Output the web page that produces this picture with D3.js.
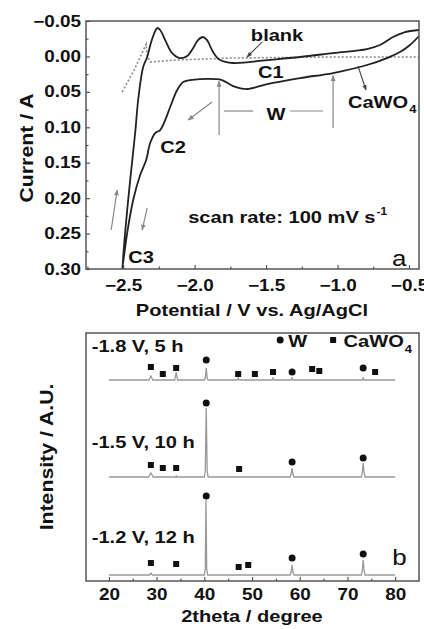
<!DOCTYPE html>
<html lang="en">
<head>
<meta charset="UTF-8" />
<script src="https://d3js.org/d3.v7.min.js"></script>
<style>
  body { margin: 0; background: #fff; }
  svg text { font-family: "Liberation Sans", Arial, sans-serif; fill: #111; }
  .axis path { display: none; }
  .axis line { stroke: #555; stroke-width: 1.2; }
  .axis text { font-weight: bold; font-size: 16px; }
  .frame { fill: none; stroke: #555; stroke-width: 1.5; }
</style>
</head>
<body>
<svg id="chart" width="424" height="629"></svg>
<script>
// ---- panel a: CV of CaWO4 (potential / V, current / A) ----
const cvLoop = [
  [-0.430, -0.0288], [-0.493, -0.0161], [-0.563, -0.0062], [-0.654, 0.0023], [-0.794, 0.0121],
  [-1.031, 0.0234], [-1.262, 0.0305], [-1.493, 0.0390], [-1.633, 0.0460], [-1.731, 0.0418],
  [-1.808, 0.0333], [-1.857, 0.0319], [-1.962, 0.0319], [-2.031, 0.0333], [-2.080, 0.0361],
  [-2.122, 0.0474], [-2.171, 0.0714], [-2.206, 0.0898], [-2.241, 0.1039], [-2.276, 0.1081],
  [-2.311, 0.1222], [-2.339, 0.1462], [-2.381, 0.1674], [-2.430, 0.2027], [-2.472, 0.2493],
  [-2.507, 0.2999],
  [-2.465, 0.2027], [-2.416, 0.1081], [-2.395, 0.0615], [-2.360, 0.0150], [-2.332, 0.0008],
  [-2.304, -0.0203], [-2.276, -0.0358], [-2.262, -0.0401], [-2.241, -0.0373], [-2.206, -0.0231],
  [-2.157, -0.0048], [-2.101, 0.0023], [-2.052, -0.0006], [-2.010, -0.0119], [-1.976, -0.0231],
  [-1.941, -0.0274], [-1.913, -0.0231], [-1.871, -0.0062], [-1.822, 0.0051], [-1.731, 0.0093],
  [-1.493, 0.0051], [-1.262, 0.0008], [-1.031, -0.0048], [-0.794, -0.0104], [-0.703, -0.0161],
  [-0.612, -0.0274], [-0.528, -0.0344], [-0.430, -0.0373]
];
const blankLoop = [
  [-2.507, 0.0502], [-2.423, 0.0192], [-2.339, -0.0175], [-2.332, -0.0020], [-2.311, 0.0079],
  [-2.136, 0.0051], [-1.752, 0.0023], [-1.052, 0.0008], [-0.430, 0.0008]
];
const cvTicksX = [-2.5, -2.0, -1.5, -1.0, -0.5];
const cvMinorX = [-2.75, -2.25, -1.75, -1.25, -0.75];
const cvTicksY = [-0.05, 0.00, 0.05, 0.10, 0.15, 0.20, 0.25, 0.30];
const cvMinorY = [-0.025, 0.025, 0.075, 0.125, 0.175, 0.225, 0.275];

// annotation arrows in data units: [V0, I0, V1, I1], head at the second point
const cvArrows = [
  [-1.878, 0.0644, -2.045, 0.0898],
  [-2.584, 0.245, -2.542, 0.1885],
  [-2.332, 0.2139, -2.367, 0.245],
  [-1.829, 0.111, -1.829, 0.035],
  [-1.031, 0.101, -1.031, 0.027]
];
const cvPointers = [
  [-1.528, -0.0203, -1.633, 0.0008],
  [-0.857, 0.0135, -0.801, 0.0474]
];
const wSpan = [[-1.794, -1.591], [-1.332, -1.101]];

// ---- panel b: XRD patterns ----
const xrdLabels = ["-1.8 V, 5 h", "-1.5 V, 10 h", "-1.2 V, 12 h"];
const xrdTop = [[20,195],[28.4,195],[28.8,199],[29.2,195],[33.8,195],[34.1,203],[34.4,195],[40.0,195],[40.2,197],[40.4,207],[40.6,197],[40.8,195],
  [46.9,195],[47.1,197],[47.3,195],[54.2,195],[54.4,197],[54.6,195],[58.2,195],[58.4,197],[58.6,195],[73.1,195],[73.3,197],[73.5,195],[80,195]];
const xrdMid = [[20,98],[28.3,98],[28.8,102],[29.3,98],[34.0,98],[34.1,99],[34.2,98],[40.0,98],[40.2,104],[40.4,167],[40.6,104],[40.8,98],
  [58.0,98],[58.2,101],[58.4,107],[58.6,101],[58.8,98],[72.9,98],[73.1,102],[73.3,112],[73.5,102],[73.7,98],[80,98]];
const xrdBot = [[20,0],[28.5,0],[28.8,2],[29.1,0],[40.0,0],[40.2,6],[40.35,75],[40.5,6],[40.7,0],
  [58.0,0],[58.2,3],[58.4,10],[58.6,3],[58.8,0],[72.9,0],[73.1,4],[73.3,15],[73.5,4],[73.7,0],[80,0]];
const wPeaks = [[40.4,215],[58.4,203],[73.3,207],[40.4,172],[58.4,113],[73.3,117],[40.4,79],[58.4,17],[73.3,21]];
const caPeaks = [[28.8,208],[31.3,201],[34.1,207],[47.1,201],[50.6,201],[54.4,203],[62.6,206],[64.1,204],[75.8,203],
  [28.8,110],[31.3,107],[34.1,107],[47.3,106],[28.8,12],[34.1,11],[47.2,8],[49.2,10]];
const xrdTicksX = [20, 30, 40, 50, 60, 70, 80];
const xrdMinorX = [25, 35, 45, 55, 65, 75];

const svg = d3.select("#chart");
const STRETCH = 1.18;   // reference glyphs are wider than Arial

// stretch text horizontally like the reference
function widen(sel) {
  sel.each(function () {
    const w = this.getComputedTextLength();
    d3.select(this).attr("textLength", w * STRETCH).attr("lengthAdjust", "spacingAndGlyphs");
  });
  return sel;
}

// returns the stretched width so a sub/superscript can follow
function label(g, x, y, str, size, opts = {}) {
  const t = g.append("text")
    .attr("x", x).attr("y", y)
    .attr("font-size", size)
    .attr("font-weight", opts.normal ? "normal" : "bold")
    .attr("text-anchor", opts.anchor || "start")
    .text(str);
  if (opts.rotate) t.attr("transform", `rotate(-90,${x},${y})`);
  const w = t.node().getComputedTextLength();
  widen(t);
  return w * STRETCH;
}

svg.append("defs").append("marker")
  .attr("id", "head")
  .attr("viewBox", "0 0 10 10")
  .attr("refX", 9).attr("refY", 5)
  .attr("markerWidth", 5).attr("markerHeight", 5)
  .attr("orient", "auto")
  .append("path").attr("d", "M0,1 L10,5 L0,9 Z").attr("fill", "context-stroke");

// ================= panel a =================
const xA = d3.scaleLinear().domain([-2.76, -0.43]).range([86, 419]);
const yA = d3.scaleLinear().domain([-0.05, 0.30]).range([21, 269]);

const gA = svg.append("g");
gA.append("clipPath").attr("id", "clipA")
  .append("rect").attr("x", 86).attr("y", 21).attr("width", 333).attr("height", 248);

gA.append("g").attr("class", "axis").attr("transform", "translate(0,269)")
  .call(d3.axisBottom(xA).tickValues(cvTicksX).tickSize(-4).tickPadding(10.5).tickFormat(d3.format(".1f")))
  .call(g => widen(g.selectAll("text")));
gA.append("g").attr("class", "axis").attr("transform", "translate(0,269)")
  .call(d3.axisBottom(xA).tickValues(cvMinorX).tickSize(-2.5).tickFormat(""));
gA.append("g").attr("class", "axis").attr("transform", "translate(86,0)")
  .call(d3.axisLeft(yA).tickValues(cvTicksY).tickSize(-4).tickPadding(5).tickFormat(d3.format(".2f")))
  .call(g => widen(g.selectAll("text")));
gA.append("g").attr("class", "axis").attr("transform", "translate(86,0)")
  .call(d3.axisLeft(yA).tickValues(cvMinorY).tickSize(-2.5).tickFormat(""));

const lineA = d3.line().x(d => xA(d[0])).y(d => yA(d[1])).curve(d3.curveCatmullRom.alpha(0.5));
const plotA = gA.append("g").attr("clip-path", "url(#clipA)");
plotA.append("path").datum(blankLoop).attr("d", d3.line().x(d => xA(d[0])).y(d => yA(d[1])))
  .attr("fill", "none").attr("stroke", "#8a8a8a").attr("stroke-width", 1.6).attr("stroke-dasharray", "2,2");
plotA.append("path").datum(cvLoop).attr("d", lineA)
  .attr("fill", "none").attr("stroke", "#222").attr("stroke-width", 1.8);

gA.selectAll("line.arrow").data(cvArrows).join("line").attr("class", "arrow")
  .attr("x1", d => xA(d[0])).attr("y1", d => yA(d[1]))
  .attr("x2", d => xA(d[2])).attr("y2", d => yA(d[3]))
  .attr("stroke", "#888").attr("stroke-width", 1.2).attr("marker-end", "url(#head)");
gA.selectAll("line.pointer").data(cvPointers).join("line").attr("class", "pointer")
  .attr("x1", d => xA(d[0])).attr("y1", d => yA(d[1]))
  .attr("x2", d => xA(d[2])).attr("y2", d => yA(d[3]))
  .attr("stroke", "#444").attr("stroke-width", 1.1).attr("marker-end", "url(#head)");
gA.selectAll("line.span").data(wSpan).join("line").attr("class", "span")
  .attr("x1", d => xA(d[0])).attr("x2", d => xA(d[1]))
  .attr("y1", yA(0.077)).attr("y2", yA(0.077))
  .attr("stroke", "#888").attr("stroke-width", 1.2);

gA.append("rect").attr("class", "frame").attr("x", 86).attr("y", 21).attr("width", 333).attr("height", 248);

label(gA, xA(-1.423), yA(-0.0217), "blank", 17, { anchor: "middle" });
label(gA, xA(-1.556), yA(0.0305), "C1", 17);
const caW = label(gA, xA(-0.927), yA(0.0728), "CaWO", 17);
label(gA, xA(-0.927) + caW + 1, yA(0.0728) + 5, "4", 11);
label(gA, xA(-1.430), yA(0.0898), "W", 17, { anchor: "middle" });
label(gA, xA(-2.241), yA(0.1363), "C2", 17);
label(gA, xA(-2.465), yA(0.2916), "C3", 17);
const srW = label(gA, xA(-2.045), yA(0.235), "scan rate: 100 mV s", 17);
label(gA, xA(-2.045) + srW + 1, yA(0.235) - 8, "-1", 10);
label(gA, xA(-0.619), yA(0.2958), "a", 22, { normal: true });

label(svg, 33, 148, "Current / A", 18, { anchor: "middle", rotate: true });
label(svg, 252, 316, "Potential / V vs. Ag/AgCl", 17, { anchor: "middle" });

// ================= panel b =================
const xB = d3.scaleLinear().domain([15.2, 85]).range([86, 419]);
const yB = d3.scaleLinear().domain([-6, 242]).range([581, 333]);
const gB = svg.append("g");

gB.append("g").attr("class", "axis").attr("transform", "translate(0,581)")
  .call(d3.axisBottom(xB).tickValues(xrdTicksX).tickSize(-4).tickPadding(8))
  .call(g => widen(g.selectAll("text")));
gB.append("g").attr("class", "axis").attr("transform", "translate(0,581)")
  .call(d3.axisBottom(xB).tickValues(xrdMinorX).tickSize(-2.5).tickFormat(""));

const lineB = d3.line().x(d => xB(d[0])).y(d => yB(d[1]));
gB.selectAll("path.xrd").data([xrdTop, xrdMid, xrdBot]).join("path").attr("class", "xrd")
  .attr("d", lineB).attr("fill", "none").attr("stroke", "#999").attr("stroke-width", 1.3);

gB.selectAll("circle.w").data(wPeaks).join("circle").attr("class", "w")
  .attr("cx", d => xB(d[0])).attr("cy", d => yB(d[1])).attr("r", 3.5).attr("fill", "#111");
gB.selectAll("rect.ca").data(caPeaks).join("rect").attr("class", "ca")
  .attr("x", d => xB(d[0]) - 3).attr("y", d => yB(d[1]) - 3).attr("width", 6).attr("height", 6).attr("fill", "#111");

gB.append("rect").attr("class", "frame").attr("x", 86).attr("y", 333).attr("width", 333).attr("height", 248);

// legend
gB.append("circle").attr("cx", xB(55.9)).attr("cy", yB(235)).attr("r", 3.5).attr("fill", "#111");
label(gB, xB(57.6), yB(228), "W", 17);
gB.append("rect").attr("x", xB(67.0) - 3).attr("y", yB(235) - 3).attr("width", 6).attr("height", 6).attr("fill", "#111");
const legW = label(gB, xB(69.2), yB(228), "CaWO", 17);
label(gB, xB(69.2) + legW + 1, yB(228) + 6, "4", 11);

const labelY = [223, 127, 32];
xrdLabels.forEach((t, i) => label(gB, xB(16.4), yB(labelY[i]), t, 17));
label(gB, xB(79.4), yB(10), "b", 22, { normal: true });

label(svg, 53, 457, "Intensity / A.U.", 18, { anchor: "middle", rotate: true });
label(svg, 252, 622, "2theta / degree", 17, { anchor: "middle" });
</script>
</body>
</html>
